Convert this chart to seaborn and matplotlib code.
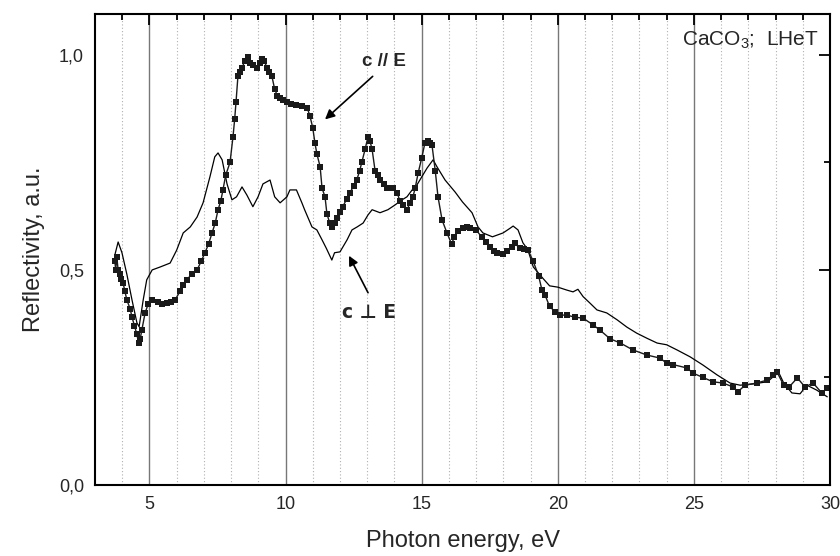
import matplotlib
matplotlib.use("Agg")
import matplotlib.pyplot as plt
import seaborn as sns
import pandas as pd
from matplotlib.ticker import MultipleLocator, FuncFormatter

# ---- data: c // E (squares) ----
par_energy = [3.73, 3.76, 3.80, 3.85, 3.90, 3.95, 4.03, 4.10, 4.17, 4.29, 4.36, 4.45, 4.54, 4.60,
              4.66, 4.72, 4.84, 4.95, 5.10, 5.30, 5.45, 5.65, 5.80, 5.94, 6.12, 6.25, 6.37, 6.55,
              6.75, 6.90, 7.04, 7.17, 7.30, 7.42, 7.52, 7.62, 7.70, 7.80, 7.96, 8.07, 8.13, 8.18,
              8.25, 8.32, 8.40, 8.50, 8.62, 8.70, 8.80, 8.95, 9.05, 9.14, 9.22, 9.32, 9.40, 9.50,
              9.60, 9.70, 9.80, 9.92, 10.05, 10.2, 10.4, 10.6, 10.8, 10.9, 11.0, 11.08, 11.15,
              11.27, 11.34, 11.45, 11.52, 11.62, 11.70, 11.80, 11.90, 12.00, 12.10, 12.25, 12.37,
              12.50, 12.62, 12.72, 12.80, 12.92, 13.03, 13.10, 13.18, 13.29, 13.38, 13.47, 13.60,
              13.73, 13.85, 13.95, 14.10, 14.20, 14.30, 14.46, 14.57, 14.68, 14.76, 14.87, 15.00,
              15.12, 15.23, 15.30, 15.38, 15.50, 15.60, 15.75, 15.93, 16.10, 16.20, 16.35, 16.50,
              16.65, 16.78, 17.00, 17.20, 17.35, 17.50, 17.65, 17.77, 17.99, 18.15, 18.32, 18.43,
              18.60, 18.75, 18.90, 19.10, 19.30, 19.42, 19.53, 19.70, 19.90, 20.08, 20.34, 20.63,
              20.93, 21.30, 21.55, 21.92, 22.30, 22.76, 23.28, 23.76, 24.00, 24.23, 24.75, 24.97,
              25.33, 25.70, 26.07, 26.44, 26.62, 26.88, 27.30, 27.70, 27.90, 28.05, 28.30, 28.50,
              28.80, 29.08, 29.38, 29.70, 29.90]
par_refl = [0.52, 0.50, 0.53, 0.50, 0.49, 0.48, 0.47, 0.45, 0.43, 0.41, 0.39, 0.37, 0.35, 0.33,
            0.34, 0.36, 0.40, 0.42, 0.43, 0.425, 0.42, 0.423, 0.425, 0.43, 0.45, 0.465, 0.477, 0.49,
            0.50, 0.52, 0.54, 0.56, 0.586, 0.61, 0.64, 0.66, 0.686, 0.72, 0.75, 0.81, 0.85, 0.89,
            0.95, 0.96, 0.97, 0.985, 0.995, 0.98, 0.977, 0.97, 0.98, 0.99, 0.985, 0.97, 0.96, 0.95,
            0.92, 0.905, 0.90, 0.895, 0.89, 0.885, 0.883, 0.88, 0.876, 0.857, 0.83, 0.795, 0.77,
            0.74, 0.69, 0.67, 0.63, 0.61, 0.60, 0.61, 0.62, 0.635, 0.647, 0.665, 0.68,
            0.695, 0.71, 0.73, 0.75, 0.78, 0.81, 0.80, 0.78, 0.73, 0.72, 0.71, 0.70,
            0.69, 0.69, 0.69, 0.68, 0.66, 0.65, 0.64, 0.655, 0.67, 0.69, 0.725, 0.76,
            0.795, 0.80, 0.795, 0.79, 0.73, 0.67, 0.616, 0.586, 0.56, 0.577, 0.59, 0.597,
            0.60, 0.597, 0.593, 0.577, 0.565, 0.553, 0.545, 0.54, 0.537, 0.545, 0.553, 0.562,
            0.55, 0.548, 0.547, 0.52, 0.485, 0.453, 0.442, 0.415, 0.403, 0.395, 0.395, 0.39,
            0.388, 0.372, 0.36, 0.34, 0.33, 0.314, 0.302, 0.295, 0.283, 0.28, 0.272, 0.26,
            0.25, 0.24, 0.237, 0.228, 0.217, 0.232, 0.237, 0.244, 0.256, 0.263, 0.232, 0.228,
            0.249, 0.228, 0.237, 0.214, 0.226]

# ---- data: c perp E (thin line) ----
perp_energy = [3.73, 3.85, 3.99, 4.17, 4.36, 4.54, 4.62, 4.77, 4.90, 5.10, 5.40, 5.76, 6.00,
               6.24, 6.50, 6.75, 6.97, 7.22, 7.40, 7.52, 7.67, 7.85, 8.03, 8.20, 8.40, 8.58,
               8.80, 8.99, 9.17, 9.43, 9.60, 9.80, 10.05, 10.16, 10.40, 10.60, 10.70, 10.97,
               11.15, 11.34, 11.50, 11.70, 11.80, 12.00, 12.26, 12.44, 12.63, 12.85, 13.03,
               13.18, 13.47, 13.76, 14.02, 14.28, 14.46, 14.65, 14.83, 15.00, 15.20, 15.42,
               15.56, 15.86, 16.23, 16.50, 16.85, 17.07, 17.25, 17.60, 17.99, 18.25, 18.36,
               18.54, 18.72, 18.90, 19.10, 19.46, 19.70, 20.00, 20.34, 20.56, 20.74, 20.93,
               21.18, 21.44, 21.80, 22.18, 22.54, 22.90, 23.28, 23.65, 24.00, 24.38, 24.86,
               25.33, 25.85, 26.33, 26.70, 27.17, 27.70, 27.90, 28.09, 28.30, 28.60, 28.90,
               29.15, 29.50, 29.90]
perp_refl = [0.535, 0.565, 0.54, 0.49, 0.43, 0.377, 0.368, 0.43, 0.477, 0.50, 0.507, 0.516, 0.546,
             0.586, 0.60, 0.623, 0.656, 0.716, 0.763, 0.772, 0.756, 0.70, 0.663, 0.67, 0.693, 0.674,
             0.647, 0.67, 0.70, 0.709, 0.67, 0.656, 0.67, 0.686, 0.686, 0.656, 0.64, 0.60,
             0.593, 0.57, 0.55, 0.523, 0.54, 0.542, 0.57, 0.593, 0.60, 0.609, 0.628,
             0.64, 0.633, 0.64, 0.651, 0.663, 0.67, 0.686, 0.698, 0.716, 0.737, 0.756,
             0.74, 0.709, 0.681, 0.658, 0.633, 0.60, 0.586, 0.577, 0.586, 0.597, 0.602,
             0.593, 0.563, 0.547, 0.507, 0.48, 0.463, 0.46, 0.453, 0.449, 0.455, 0.438,
             0.423, 0.407, 0.40, 0.384, 0.367, 0.353, 0.341, 0.33, 0.326, 0.314, 0.298,
             0.279, 0.256, 0.237, 0.232, 0.235, 0.24, 0.251, 0.265, 0.237, 0.214, 0.212,
             0.232, 0.221, 0.205]

x_major = [5, 10, 15, 20, 25, 30]
y_major = [0.0, 0.5, 1.0]

df_par = pd.DataFrame({"energy": par_energy, "refl": par_refl})
df_perp = pd.DataFrame({"energy": perp_energy, "refl": perp_refl})

sns.set_style("white")
plt.rcParams["font.family"] = ["Liberation Sans", "DejaVu Sans"]
plt.rcParams["mathtext.fontset"] = "custom"
plt.rcParams["mathtext.rm"] = "Liberation Sans"
plt.rcParams["mathtext.it"] = "Liberation Sans:italic"

fig = plt.figure(figsize=(8.4, 5.56), dpi=100)
ax = fig.add_axes([95 / 840, 1 - 485 / 556, 735 / 840, 471 / 556])

# grid
for e in range(4, 30):
    if e % 5 == 0:
        ax.axvline(e, color="#777777", lw=1.0, zorder=0)
    else:
        ax.axvline(e, color="#b0b0b0", lw=0.8, ls=(0, (1, 2)), zorder=0)

sns.lineplot(data=df_perp, x="energy", y="refl", ax=ax, color="black", lw=0.9,
             sort=False, estimator=None)
sns.lineplot(data=df_par, x="energy", y="refl", ax=ax, color="#1a1a1a", lw=1.0,
             marker="s", markersize=4.0, markeredgewidth=0, sort=False, estimator=None)

ax.set_xlim(3, 30)
ax.set_ylim(0, 1.095)
ax.set_xticks(x_major)
ax.set_yticks(y_major)
ax.xaxis.set_minor_locator(MultipleLocator(1))
ax.yaxis.set_minor_locator(MultipleLocator(0.25))
ax.yaxis.set_major_formatter(FuncFormatter(lambda v, p: f"{v:.1f}".replace(".", ",")))
ax.tick_params(which="both", direction="in", top=True, right=True, labelsize=13, width=1.3, color="black")
ax.tick_params(which="major", length=8, pad=8)
ax.tick_params(which="minor", length=4)
for s in ax.spines.values():
    s.set_color("black")
    s.set_linewidth(1.5)

ax.set_xlabel("Photon energy, eV", fontsize=17, labelpad=12)
ax.set_ylabel("Reflectivity, a.u.", fontsize=17, labelpad=10)

ax.text(0.985, 0.945, "CaCO$_3$;  LHeT", transform=ax.transAxes, ha="right", va="center", fontsize=15)

# annotations
ax.text(13.6, 0.984, "c // E", fontsize=13.5, fontweight="bold", ha="center", va="center")
ax.annotate("", xy=(11.45, 0.85), xytext=(13.2, 0.95),
            arrowprops=dict(arrowstyle="-|>", color="black", lw=1.2, mutation_scale=14,
                            shrinkA=0, shrinkB=0))
ax.text(13.07, 0.402, "c \u22a5 E", fontsize=13.5, fontweight="bold", ha="center", va="center",
        family=["DejaVu Sans"])
ax.annotate("", xy=(12.33, 0.533), xytext=(13.03, 0.447),
            arrowprops=dict(arrowstyle="-|>", color="black", lw=1.2, mutation_scale=14,
                            shrinkA=0, shrinkB=0))

fig.savefig("out.png", dpi=100)
